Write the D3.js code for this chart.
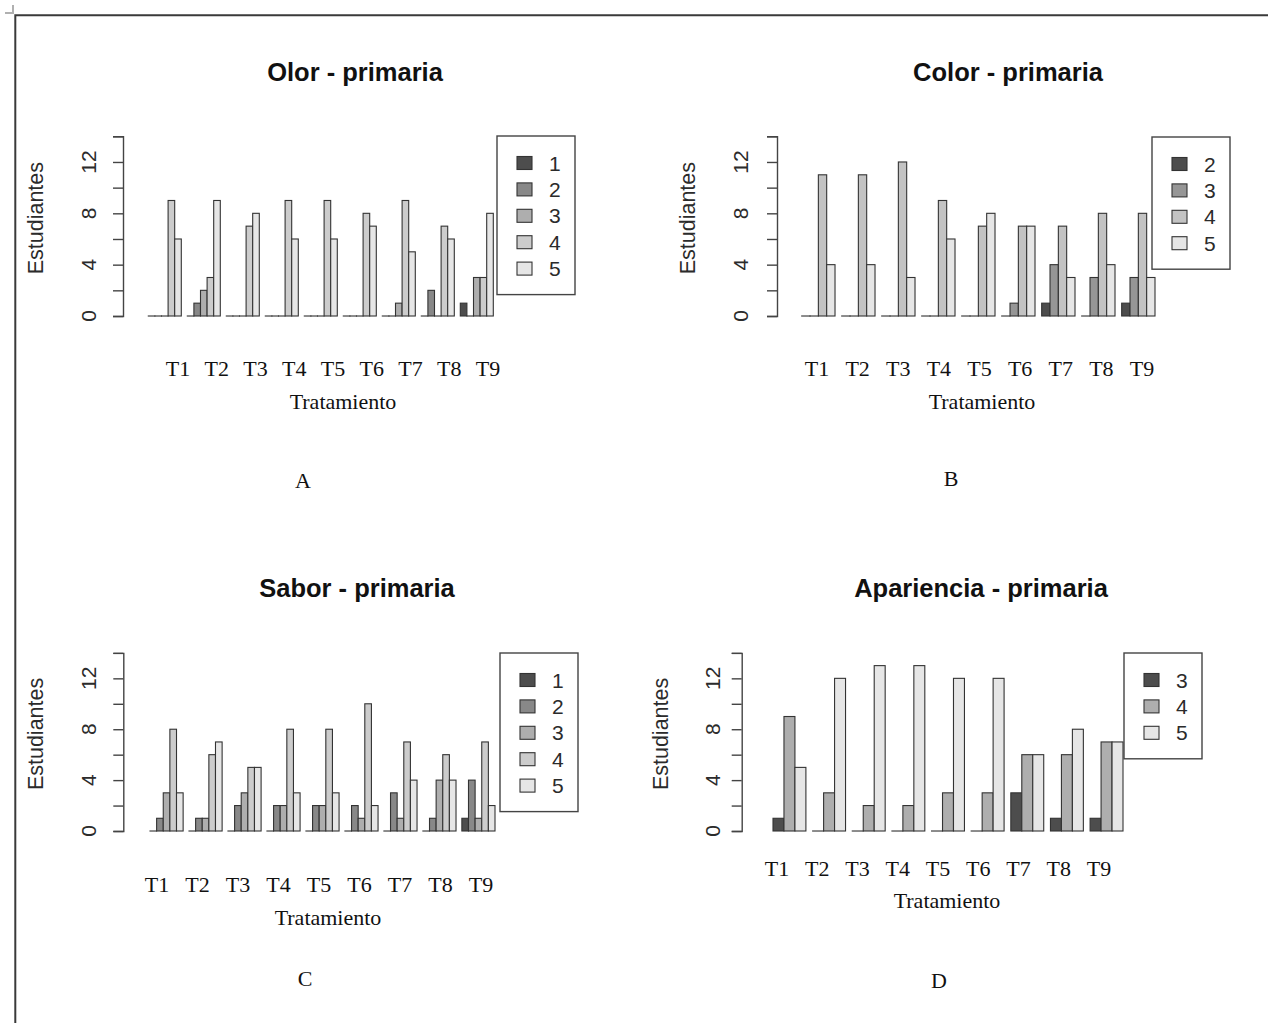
<!DOCTYPE html>
<html>
<head>
<meta charset="utf-8">
<script src="https://cdn.jsdelivr.net/npm/d3@7"></script>
<style>
  body { margin: 0; background: #fff; }
  svg { display: block; }
</style>
</head>
<body>
<div id="chart"></div>
<script>
// data (rows = treatments, columns = answer categories)
var tratamientos = ["T1", "T2", "T3", "T4", "T5", "T6", "T7", "T8", "T9"];

var olorCats = ["1", "2", "3", "4", "5"];
var olorVals = [[0,0,0,9,6],[0,1,2,3,9],[0,0,0,7,8],[0,0,0,9,6],[0,0,0,9,6],
                [0,0,0,8,7],[0,0,1,9,5],[0,2,0,7,6],[1,0,3,3,8]];

var colorCats = ["2", "3", "4", "5"];
var colorVals = [[0,0,11,4],[0,0,11,4],[0,0,12,3],[0,0,9,6],[0,0,7,8],
                 [0,1,7,7],[1,4,7,3],[0,3,8,4],[1,3,8,3]];

var saborCats = ["1", "2", "3", "4", "5"];
var saborVals = [[0,1,3,8,3],[0,1,1,6,7],[0,2,3,5,5],[0,2,2,8,3],[0,2,2,8,3],
                 [0,2,1,10,2],[0,3,1,7,4],[0,1,4,6,4],[1,4,1,7,2]];

var aparCats = ["3", "4", "5"];
var aparVals = [[1,9,5],[0,3,12],[0,2,13],[0,2,13],[0,3,12],
                [0,3,12],[3,6,6],[1,6,8],[1,7,7]];

var yTicks = [0, 2, 4, 6, 8, 10, 12, 14];
var yTickLabels = [0, 4, 8, 12];

// layout of each panel
var panels = [
  {title: "Olor - primaria", cats: olorCats, vals: olorVals, letter: "A",
   titleX: 355, titleY: 72, axisX: 123, y0: 316, y14: 136.3,
   xStart: 148.3, xEnd: 493.3, pad: 0.154, lblStart: 178, lblEnd: 488, lblY: 368,
   xTitleX: 343, xTitleY: 401, yLabX: 36, yTickLabX: 88,
   letterX: 303, letterY: 480, legX: 497, legY: 136},
  {title: "Color - primaria", cats: colorCats, vals: colorVals, letter: "B",
   titleX: 1008, titleY: 72, axisX: 777, y0: 316, y14: 136.3,
   xStart: 801.7, xEnd: 1155, pad: 0.167, lblStart: 817, lblEnd: 1142, lblY: 368,
   xTitleX: 982, xTitleY: 401, yLabX: 688, yTickLabX: 740,
   letterX: 951, letterY: 478, legX: 1152, legY: 137},
  {title: "Sabor - primaria", cats: saborCats, vals: saborVals, letter: "C",
   titleX: 357, titleY: 588, axisX: 123.3, y0: 831, y14: 652.9,
   xStart: 150, xEnd: 495, pad: 0.15, lblStart: 157, lblEnd: 481, lblY: 884,
   xTitleX: 328, xTitleY: 917, yLabX: 36, yTickLabX: 88,
   letterX: 305, letterY: 978, legX: 500, legY: 653},
  {title: "Apariencia - primaria", cats: aparCats, vals: aparVals, letter: "D",
   titleX: 981, titleY: 588, axisX: 741.7, y0: 831, y14: 652.9,
   xStart: 773, xEnd: 1123, pad: 0.17, lblStart: 777, lblEnd: 1099, lblY: 868,
   xTitleX: 947, xTitleY: 900, yLabX: 661, yTickLabX: 712,
   letterX: 939, letterY: 980, legX: 1124, legY: 653}
];

// R's gray.colors(n)
function grayColors(n) {
  var a = Math.pow(0.3, 2.2), b = Math.pow(0.9, 2.2);
  return d3.range(n).map(function(i) {
    var v = Math.round(255 * Math.pow(a + (b - a) * i / (n - 1), 1 / 2.2));
    return d3.rgb(v, v, v).formatHex();
  });
}

var W = 1268, H = 1023;
var sans = "'Liberation Sans', Arial, sans-serif";
var serif = "'Liberation Serif', 'Times New Roman', serif";
var ink = "#2b2b2b";

var svg = d3.select("#chart").append("svg")
    .attr("width", W)
    .attr("height", H);

// page border and corner mark
svg.append("path")
    .attr("d", "M15.3," + H + "V15.3H" + W)
    .attr("fill", "none")
    .attr("stroke", "#3a3a3a")
    .attr("stroke-width", 2);
svg.append("path")
    .attr("d", "M13,5V13H5")
    .attr("fill", "none")
    .attr("stroke", "#b0b0b0")
    .attr("stroke-width", 2);

panels.forEach(function(p) {
  var g = svg.append("g");
  var colors = grayColors(p.cats.length);

  var y = d3.scaleLinear().domain([0, 14]).range([p.y0, p.y14]);

  var x = d3.scaleBand()
      .domain(tratamientos)
      .range([p.xStart, p.xEnd])
      .paddingInner(p.pad)
      .paddingOuter(0);

  var xSub = d3.scaleBand()
      .domain(p.cats)
      .range([0, x.bandwidth()])
      .padding(0);

  var color = d3.scaleOrdinal().domain(p.cats).range(colors);

  // bars
  g.append("g")
      .selectAll("g")
      .data(p.vals)
      .enter()
      .append("g")
      .attr("transform", function(d, i) { return "translate(" + x(tratamientos[i]) + ",0)"; })
      .selectAll("rect")
      .data(function(d) { return p.cats.map(function(key, j) { return {key: key, value: d[j]}; }); })
      .enter().append("rect")
      .attr("x", function(d) { return xSub(d.key); })
      .attr("y", function(d) { return y(d.value); })
      .attr("width", xSub.bandwidth())
      .attr("height", function(d) { return Math.max(y(0) - y(d.value), 0.01); })
      .attr("fill", function(d) { return color(d.key); })
      .attr("stroke", "#333")
      .attr("stroke-width", 1.1);

  // y axis
  var ax = g.append("g")
      .attr("transform", "translate(" + p.axisX + ",0)")
      .call(d3.axisLeft(y).tickValues(yTicks).tickSize(10).tickFormat(""));
  ax.select(".domain").attr("stroke", "#444").attr("stroke-width", 1.4);
  ax.selectAll(".tick line").attr("stroke", "#444").attr("stroke-width", 1.4);

  g.selectAll(".ylab")
      .data(yTickLabels)
      .enter().append("text")
      .attr("transform", function(d) { return "translate(" + p.yTickLabX + "," + y(d) + ") rotate(-90)"; })
      .attr("text-anchor", "middle")
      .attr("dominant-baseline", "central")
      .style("font-family", sans)
      .style("font-size", "21px")
      .style("fill", ink)
      .text(function(d) { return d; });

  g.append("text")
      .attr("transform", "translate(" + p.yLabX + "," + ((y(0) + y(14)) / 2 - 8) + ") rotate(-90)")
      .attr("text-anchor", "middle")
      .attr("dominant-baseline", "central")
      .style("font-family", sans)
      .style("font-size", "21.5px")
      .style("fill", ink)
      .text("Estudiantes");

  // title
  g.append("text")
      .attr("x", p.titleX)
      .attr("y", p.titleY)
      .attr("text-anchor", "middle")
      .attr("dominant-baseline", "central")
      .style("font-family", sans)
      .style("font-weight", "bold")
      .style("font-size", "25.5px")
      .style("fill", "#111")
      .text(p.title);

  // treatment labels (typed under the plot)
  var xl = d3.scalePoint().domain(tratamientos).range([p.lblStart, p.lblEnd]);
  g.selectAll(".tlab")
      .data(tratamientos)
      .enter().append("text")
      .attr("x", function(d) { return xl(d); })
      .attr("y", p.lblY)
      .attr("text-anchor", "middle")
      .attr("dominant-baseline", "central")
      .style("font-family", serif)
      .style("font-size", "22px")
      .style("fill", "#111")
      .text(function(d) { return d; });

  g.append("text")
      .attr("x", p.xTitleX)
      .attr("y", p.xTitleY)
      .attr("text-anchor", "middle")
      .attr("dominant-baseline", "central")
      .style("font-family", serif)
      .style("font-size", "22px")
      .style("fill", "#111")
      .text("Tratamiento");

  g.append("text")
      .attr("x", p.letterX)
      .attr("y", p.letterY)
      .attr("text-anchor", "middle")
      .attr("dominant-baseline", "central")
      .style("font-family", serif)
      .style("font-size", "22px")
      .style("fill", "#111")
      .text(p.letter);

  // legend
  var n = p.cats.length;
  var leg = g.append("g").attr("transform", "translate(" + p.legX + "," + p.legY + ")");
  leg.append("rect")
      .attr("width", 78)
      .attr("height", 53 + (n - 1) * 26.4)
      .attr("fill", "#fff")
      .attr("stroke", "#444")
      .attr("stroke-width", 1.4);
  var rows = leg.selectAll(".row")
      .data(p.cats)
      .enter().append("g")
      .attr("transform", function(d, i) { return "translate(0," + (27 + i * 26.4) + ")"; });
  rows.append("rect")
      .attr("x", 20)
      .attr("y", -6.5)
      .attr("width", 15)
      .attr("height", 13)
      .attr("fill", function(d) { return color(d); })
      .attr("stroke", "#333")
      .attr("stroke-width", 1.1);
  rows.append("text")
      .attr("x", 52)
      .attr("y", 0)
      .attr("dominant-baseline", "central")
      .style("font-family", sans)
      .style("font-size", "21px")
      .style("fill", ink)
      .text(function(d) { return d; });
});
</script>
</body>
</html>
